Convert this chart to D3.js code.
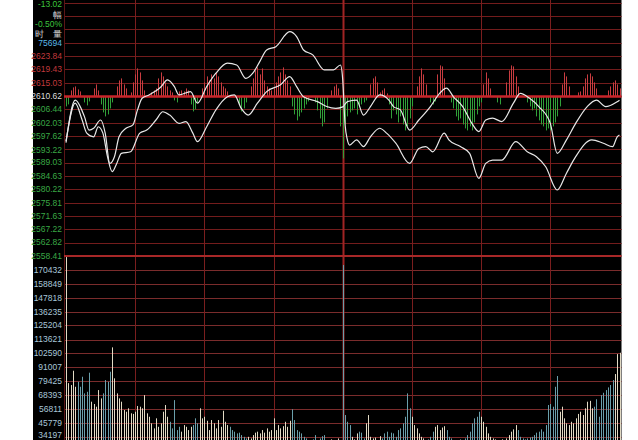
<!DOCTYPE html>
<html>
<head>
<meta charset="utf-8">
<script src="https://cdn.jsdelivr.net/npm/d3@7"></script>
<style>
    html, body { margin: 0; padding: 0; background: #fff; }
    svg { display: block; }
    text { font-family: "Liberation Sans", Arial, sans-serif; }
</style>
</head>
<body>
<svg id="chart" width="638" height="440"></svg>
<script>
/* global d3 */
(function() {
    'use strict';

    var prevClose = 2610.62;
    var priceTicks = [2623.84, 2619.43, 2615.03, 2610.62, 2606.44, 2602.03, 2597.62, 2593.22,
        2589.03, 2584.63, 2580.22, 2575.81, 2571.63, 2567.22, 2562.82, 2558.41];
    var volumeTicks = [170432, 158849, 147818, 136235, 125204, 113621, 102590, 91007,
        79425, 68393, 56811, 45779, 34197];
    var infoLabels = ['-13.02', '幅', '-0.50%', '时\u3000量', '75694'];

    // [minute, index] pairs
    var line1 = [[0, 2595.5], [4, 2609.4], [8, 2604.0], [10, 2599.6], [12, 2600.2], [15, 2602.9], [17, 2598.6],
        [19, 2588.7], [21, 2590.9], [23, 2597.4], [26, 2600.2], [29, 2601.3], [31, 2606.2], [33, 2610.0],
        [36, 2611.1], [41, 2613.6], [44, 2616.0], [47, 2613.8], [49, 2611.1], [54, 2612.2], [57, 2608.4],
        [61, 2613.8], [65, 2618.2], [70, 2621.5], [74, 2620.9], [78, 2616.5], [81, 2618.2], [84, 2622.0],
        [87, 2625.8], [91, 2626.9], [97, 2631.8], [100, 2630.2], [103, 2625.8], [107, 2624.2], [112, 2619.3],
        [116, 2619.3], [119, 2620.9], [120, 2616.0], [121, 2601.5], [122, 2596.4], [123, 2594.7], [126, 2596.4],
        [129, 2594.2], [132, 2597.4], [136, 2600.2], [139, 2598.6], [143, 2595.3], [149, 2588.7], [153, 2593.6],
        [156, 2594.2], [159, 2592.5], [164, 2598.6], [166, 2596.4], [171, 2594.2], [175, 2592.0], [179, 2583.8],
        [182, 2588.7], [185, 2589.8], [189, 2589.8], [195, 2595.8], [200, 2592.5], [204, 2590.9], [208, 2587.6],
        [213, 2580.0], [217, 2585.5], [221, 2590.9], [228, 2596.4], [233, 2595.3], [237, 2594.2], [239, 2597.4],
        [240, 2598.0]];
    var line2 = [[0, 2596.0], [4, 2608.4], [7, 2602.9], [9, 2598.6], [12, 2597.4], [14, 2600.7], [16, 2598.6],
        [18, 2590.9], [20, 2586.0], [22, 2588.7], [24, 2592.0], [28, 2592.5], [32, 2598.6], [35, 2599.6],
        [39, 2602.9], [42, 2605.6], [45, 2604.5], [49, 2601.8], [52, 2602.4], [55, 2598.6], [57, 2595.8],
        [61, 2600.7], [65, 2606.2], [70, 2610.5], [73, 2611.1], [76, 2606.7], [79, 2604.5], [83, 2608.4],
        [87, 2612.2], [93, 2614.4], [97, 2617.1], [100, 2613.8], [103, 2610.5], [109, 2608.9], [113, 2607.3],
        [117, 2606.7], [120, 2607.2], [122, 2608.9], [126, 2609.4], [129, 2604.5], [132, 2607.3], [136, 2611.1],
        [140, 2609.4], [142, 2607.3], [145, 2606.2], [149, 2599.6], [153, 2602.9], [158, 2607.3], [162, 2611.6],
        [165, 2613.3], [168, 2610.5], [172, 2607.3], [176, 2601.8], [179, 2599.1], [182, 2602.9], [185, 2603.5],
        [189, 2602.4], [194, 2608.4], [197, 2611.6], [201, 2610.0], [205, 2607.3], [210, 2601.8], [213, 2592.0],
        [217, 2596.4], [221, 2601.8], [226, 2607.3], [230, 2609.4], [234, 2607.3], [239, 2608.9], [240, 2609.4]];

    // red / green strength bars around the previous close, one per minute
    var flow = [
        -10, -8, 6, 9, 10, 7, 5, 0, -6, -9, -5, 0, 8, 12, 6, -8, -16, -20, -18, -12, -6, 0, 10, 16, 18, 12, 8, 0, 4, 14,
        22, 28, 24, 16, 6, 0, 0, 4, 6, 8, 18, 24, 20, 14, 10, 6, 4, -4, -6, 5, 6, 5, 8, 6, -8, -15, -13, -6, 0, 8,
        14, 20, 16, 22, 18, 24, 20, 14, 10, 8, 5, 0, 0, 0, 0, -8, -15, -12, -6, 0, 10, 18, 26, 29, 22, 28, 16, 10, 8, 6,
        8, 14, 20, 24, 29, 22, 16, 10, -10, -18, -24, -20, -16, -12, -8, -5, 0, 0, -6, -14, -22, -30, -26, -12, 0, 6, 10, 12, 8, -30,
        -62, -28, -20, -16, -14, -12, -18, -10, -8, -6, -4, 0, 12, 18, 20, 14, 4, 6, 8, 3, -8, -22, -14, -18, -26, -20, -28, -34, -30, -22,
        -10, 0, 10, 20, 28, 22, 12, 0, -6, -8, -5, 22, 31, 30, 18, 0, 0, -6, -12, -20, -24, -22, -28, -32, -34, -30, -34, -26, -18, -10,
        -6, 12, 24, 18, 8, 0, 0, -6, -8, 0, 0, 14, 26, 31, 30, 20, 10, 0, 0, 0, -6, -10, -14, -12, -20, -24, -28, -30, -34, -32,
        -34, -30, -26, -20, -10, 12, 24, 20, 10, 0, 0, 0, 4, 5, 10, 18, 22, 23, 20, 14, 8, 0, 0, 0, 0, 6, 10, 14, 16, 12, 8];

    // volume per minute
    var volume = [
        181000, 78000, 76400, 88100, 75000, 79100, 75000, 83200, 69600, 70900, 86500, 62800, 60900, 58700, 72300,
        65500, 69600, 80500, 79100, 87300, 107200, 81900, 69600, 65500, 62800, 56000, 54600, 57400, 53300, 52800,
        54600, 59300, 58700, 57400, 68200, 53300, 50500, 45100, 41000, 49200, 42300, 45100, 54600, 60100, 50500,
        46400, 41000, 64100, 39600, 42300, 38300, 43700, 42300, 39600, 42300, 43700, 49200, 45100, 57400, 49200,
        50500, 47200, 39600, 47800, 45100, 41000, 47800, 42300, 55400, 46400, 43700, 42300, 39600, 38300, 36900,
        37500, 35500, 34100, 32800, 34100, 32800, 35500, 37500, 38300, 36900, 39600, 37500, 41000, 38300, 39600,
        49200, 39600, 43700, 41000, 42800, 46400, 42300, 47200, 56600, 47800, 39600, 38300, 36900, 34100, 32800,
        31500, 31000, 32000, 35500, 30500, 32800, 34600, 35500, 31000, 30500, 32000, 29000, 31000, 32800, 30500,
        174500, 51900, 46400, 43700, 34100, 32000, 36900, 38300, 37500, 32800, 45100, 51900, 34100, 32800, 33500,
        31000, 34600, 32800, 36900, 38300, 34100, 37500, 36900, 34100, 39600, 41000, 45100, 50500, 69600, 57400,
        50500, 43700, 41000, 36900, 34100, 32800, 31000, 32000, 34100, 38300, 42300, 43700, 39600, 41700, 42800,
        39600, 34100, 32800, 31000, 29000, 31000, 32000, 30500, 32800, 35500, 38300, 45100, 49200, 50500, 54600,
        50500, 46400, 42300, 36900, 34100, 32800, 32000, 31000, 30500, 32000, 31000, 32800, 35500, 38300, 40200,
        43700, 39600, 34100, 32800, 32000, 32800, 33500, 34100, 35500, 37500, 38300, 40200, 38300, 43700, 60100,
        60900, 58700, 75000, 83800, 54600, 58700, 49200, 45100, 43700, 46400, 45100, 49200, 52800, 54600, 51900,
        57400, 62800, 63500, 57400, 58700, 64800, 50500, 68200, 70100, 72300, 74500, 76400, 80500, 85400, 101700,
        102800];

    var H = 440;
    var panelLeft = 33, plotLeft = 64, plotRight = 621.5;

    var svg = d3.select('#chart');

    var x = d3.scaleLinear().domain([0, 240]).range([66, 619.5]);
    var yPrice = d3.scaleLinear().domain([2558.41, 2623.84]).range([256, 56]);
    var yVol = d3.scaleLinear().domain([34197, 170432]).range([436.7, 270]);
    var midY = yPrice(prevClose);
    var yFlow = d3.scaleLinear().domain([-50, 50]).range([midY + 50, midY - 50]);
    var splitY = yPrice(2558.41);

    function px(v) {
        return Math.round(v) + 0.5;
    }

    //black background
    svg.append('rect')
        .attr('x', panelLeft)
        .attr('y', 0)
        .attr('width', plotRight - panelLeft)
        .attr('height', H)
        .attr('fill', '#000');

    //price grid rows, same spacing as the labels, running up past the info box
    var step = (2623.84 - 2558.41) / 15;
    var priceRows = d3.range(1, 20).map(function(i) {
        return 2558.41 + i * step;
    });
    svg.append('g').selectAll('line')
        .data(priceRows)
        .enter().append('line')
        .attr('x1', plotLeft)
        .attr('x2', plotRight)
        .attr('y1', function(d) { return px(yPrice(d)); })
        .attr('y2', function(d) { return px(yPrice(d)); })
        .attr('stroke', '#731c1c')
        .attr('stroke-width', 1);

    //volume grid rows
    svg.append('g').selectAll('line')
        .data(volumeTicks)
        .enter().append('line')
        .attr('x1', plotLeft)
        .attr('x2', plotRight)
        .attr('y1', function(d) { return px(yVol(d)); })
        .attr('y2', function(d) { return px(yVol(d)); })
        .attr('stroke', '#7a2c2c')
        .attr('stroke-width', 1);

    //half hour columns
    svg.append('g').selectAll('line')
        .data(d3.range(30, 240, 30))
        .enter().append('line')
        .attr('x1', function(d) { return px(x(d)); })
        .attr('x2', function(d) { return px(x(d)); })
        .attr('y1', 0)
        .attr('y2', H)
        .attr('stroke', function(d) { return d === 120 ? '#a02424' : '#7a1e1e'; })
        .attr('stroke-width', function(d) { return d === 120 ? 2 : 1; });

    //left border of the plot
    svg.append('line')
        .attr('x1', plotLeft + 0.5)
        .attr('x2', plotLeft + 0.5)
        .attr('y1', 0)
        .attr('y2', H)
        .attr('stroke', '#5a1616');

    //volume bars, light when the index rose that minute
    var p1 = d3.scaleLinear()
        .domain(line1.map(function(d) { return d[0]; }))
        .range(line1.map(function(d) { return d[1]; }));
    svg.append('g').selectAll('line')
        .data(volume)
        .enter().append('line')
        .attr('x1', function(d, i) { return px(x(i)); })
        .attr('x2', function(d, i) { return px(x(i)); })
        .attr('y1', function(d) { return Math.max(yVol(d), splitY + 1); })
        .attr('y2', yVol(0))
        .attr('stroke', function(d, i) {
            var up = i === 0 || p1(i) >= p1(i - 1);
            return up ? '#e2dac4' : '#6a9fab';
        })
        .attr('stroke-width', 1);

    //red / green bars, zero minutes left out
    var flowBars = flow.map(function(v, i) {
        return { t: i, v: v };
    }).filter(function(d) {
        return d.v !== 0;
    });
    svg.append('g').selectAll('line')
        .data(flowBars)
        .enter().append('line')
        .attr('x1', function(d) { return px(x(d.t)); })
        .attr('x2', function(d) { return px(x(d.t)); })
        .attr('y1', midY)
        .attr('y2', function(d) { return yFlow(d.v); })
        .attr('stroke', function(d) { return d.v > 0 ? '#c83c40' : '#31a039'; })
        .attr('stroke-width', 1);

    //previous close and panel divider
    svg.append('line')
        .attr('x1', plotLeft)
        .attr('x2', plotRight)
        .attr('y1', midY)
        .attr('y2', midY)
        .attr('stroke', '#c8242a')
        .attr('stroke-width', 2.5);
    svg.append('line')
        .attr('x1', plotLeft)
        .attr('x2', plotRight)
        .attr('y1', splitY)
        .attr('y2', splitY)
        .attr('stroke', '#a82828')
        .attr('stroke-width', 2);

    //the two index lines
    var line = d3.line()
        .x(function(d) { return x(d[0]); })
        .y(function(d) { return yPrice(d[1]); })
        .curve(d3.curveMonotoneX);
    svg.append('g').selectAll('path')
        .data([line1, line2])
        .enter().append('path')
        .attr('d', line)
        .attr('fill', 'none')
        .attr('stroke', '#e8e8e8')
        .attr('stroke-width', 1.2);

    //price labels
    svg.append('g').selectAll('text')
        .data(priceTicks)
        .enter().append('text')
        .attr('x', 62)
        .attr('y', function(d) { return yPrice(d); })
        .attr('dy', '0.35em')
        .attr('text-anchor', 'end')
        .attr('font-size', '8.5px')
        .attr('fill', function(d) {
            if (d > prevClose) {
                return '#c0393d';
            }
            return d === prevClose ? '#dcdcdc' : '#3aa845';
        })
        .text(function(d) { return d.toFixed(2); });

    //volume labels, the lowest one kept inside the window
    svg.append('g').selectAll('text')
        .data(volumeTicks)
        .enter().append('text')
        .attr('x', 62)
        .attr('y', function(d) { return Math.min(yVol(d), H - 5); })
        .attr('dy', '0.35em')
        .attr('text-anchor', 'end')
        .attr('font-size', '8.5px')
        .attr('fill', '#a9c6d8')
        .text(function(d) { return d; });

    //info box over the top rows
    var infoY = [4.5, 14.8, 24.5, 33.9, 43.3];
    var infoColor = ['#3cc43c', '#d4d4d4', '#3cc43c', '#d4d4d4', '#5ab8e6'];
    svg.append('g').selectAll('text')
        .data(infoLabels)
        .enter().append('text')
        .attr('x', 62)
        .attr('y', function(d, i) { return infoY[i]; })
        .attr('dy', '0.35em')
        .attr('text-anchor', 'end')
        .attr('font-size', function(d, i) { return (i === 1 || i === 3) ? '9px' : '8.5px'; })
        .attr('font-family', function(d, i) {
            return (i === 1 || i === 3) ? '"Noto Sans CJK SC", sans-serif' : null;
        })
        .attr('fill', function(d, i) { return infoColor[i]; })
        .text(function(d) { return d; });

})();
</script>
</body>
</html>
